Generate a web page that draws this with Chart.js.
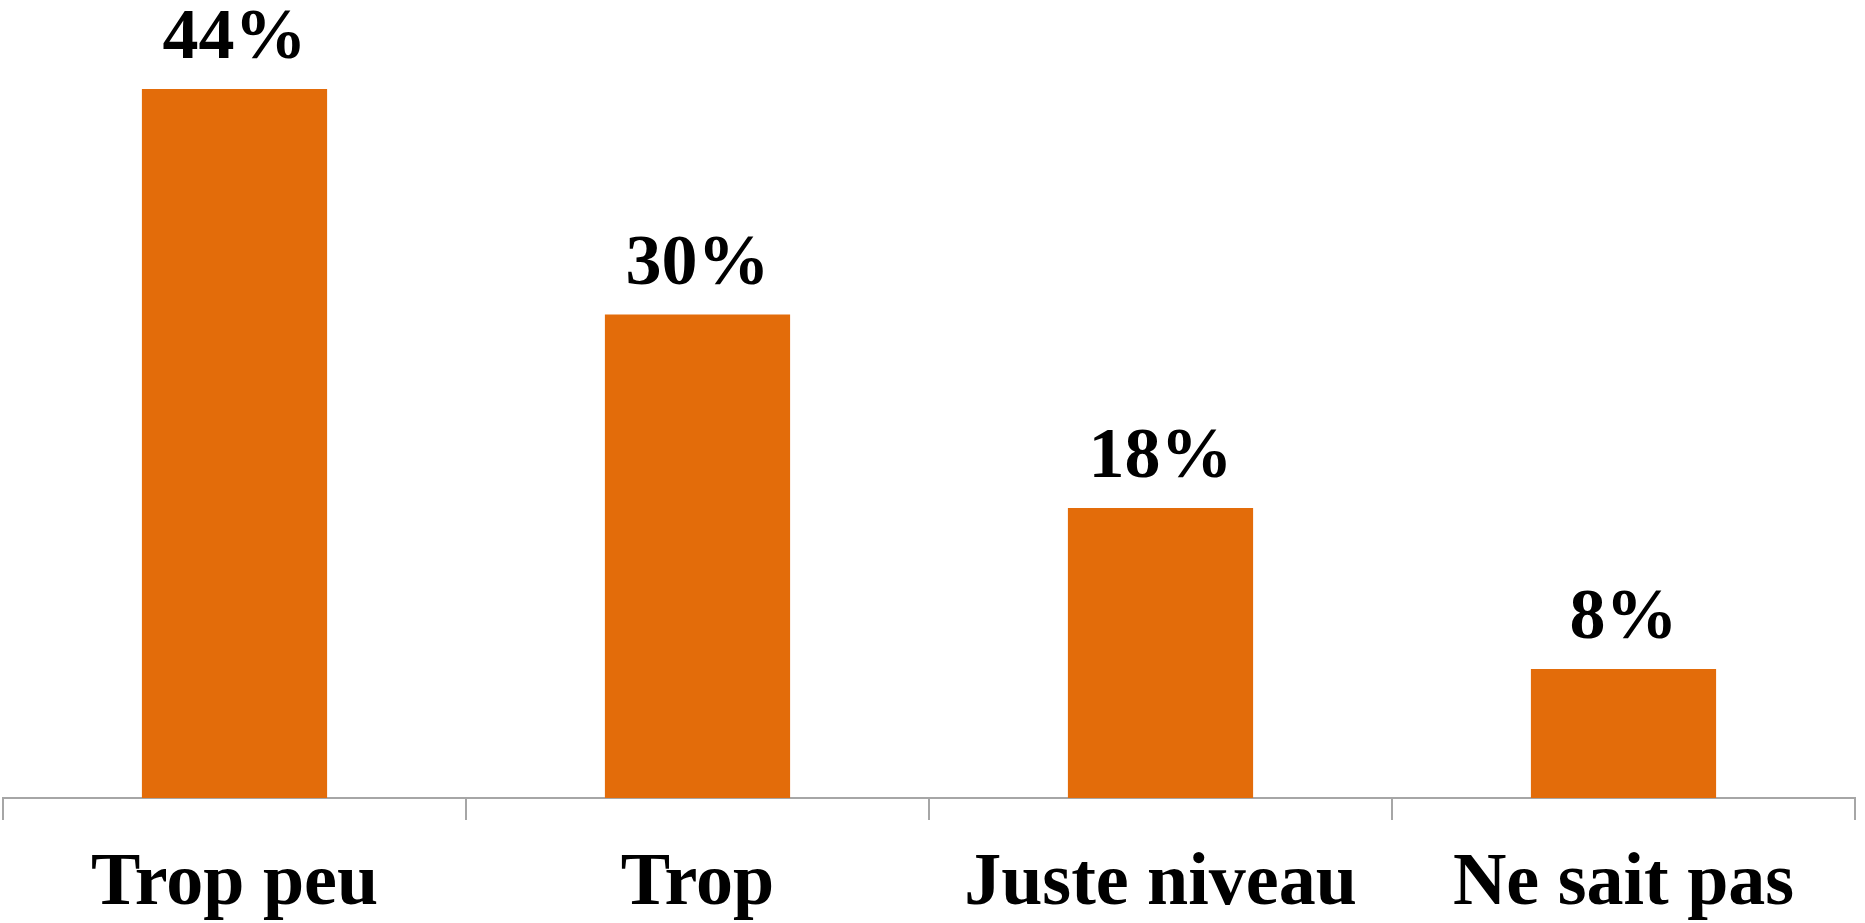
<!DOCTYPE html>
<html>
<head>
<meta charset="utf-8">
<script src="https://cdn.jsdelivr.net/npm/chart.js@4"></script>
<style>
    body { margin: 0; background: #ffffff; }
    #wrap { width: 1865px; height: 923px; position: relative; }
</style>
</head>
<body>
<div id="wrap"><canvas id="chart"></canvas></div>
<script>
// Chart data
const categories = ['Trop peu', 'Trop', 'Juste niveau', 'Ne sait pas'];
const percentages = [44, 30, 18, 8];

const barColor = '#E36C0A';
const fontFamily = '"Liberation Serif", "Times New Roman", serif';

// Draw value labels above each bar
const valueLabels = {
    id: 'valueLabels',
    afterDatasetsDraw(chart) {
        const ctx = chart.ctx;
        const meta = chart.getDatasetMeta(0);
        ctx.save();
        ctx.font = 'bold 72px ' + fontFamily;
        ctx.fillStyle = '#000000';
        ctx.textAlign = 'center';
        ctx.textBaseline = 'alphabetic';
        meta.data.forEach((bar, i) => {
            ctx.fillText(percentages[i] + '%', bar.x, bar.y - 31);
        });
        ctx.restore();
    }
};

const ctx = document.getElementById('chart').getContext('2d');
new Chart(ctx, {
    type: 'bar',
    data: {
        labels: categories,
        datasets: [{
            data: percentages,
            backgroundColor: barColor,
            borderWidth: 0,
            barPercentage: 0.4,
            categoryPercentage: 1.0
        }]
    },
    options: {
        responsive: true,
        maintainAspectRatio: false,
        animation: false,
        layout: {
            padding: { top: 89, left: 3, right: 10, bottom: 0 }
        },
        plugins: {
            legend: { display: false },
            tooltip: { enabled: false }
        },
        scales: {
            y: {
                display: false,
                min: 0,
                max: 44
            },
            x: {
                border: { display: true, color: '#a6a6a6', width: 2 },
                grid: {
                    offset: true,
                    drawOnChartArea: false,
                    drawTicks: true,
                    tickLength: 22,
                    color: '#a6a6a6',
                    lineWidth: 2
                },
                ticks: {
                    color: '#000000',
                    padding: 36,
                    font: { family: fontFamily, size: 74, weight: 'bold', lineHeight: 0.77 }
                },
                afterFit(scale) {
                    scale.height = 125;
                }
            }
        }
    },
    plugins: [valueLabels]
});
</script>
</body>
</html>
